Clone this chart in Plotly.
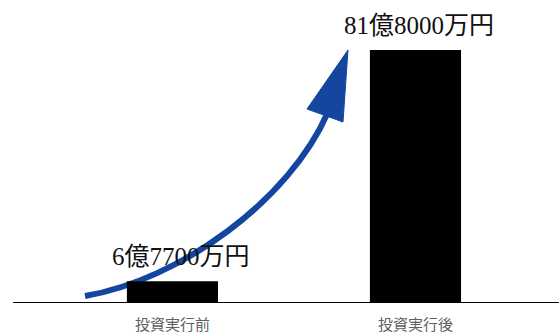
import plotly.graph_objects as go

categories = ["投資実行前", "投資実行後"]
values = [6.77, 81.8]  # 億円
value_labels = ["6億7700万円", "81億8000万円"]

W, H = 559, 333
ML, MR, MT, MB = 13, 0, 0, 31
PW, PH = W - ML - MR, H - MT - MB
LABEL_XSHIFT = [9, 4]

def px(x, y):
    return (x - ML) / PW, (H - MB - y) / PH

def path(cmds):
    out = []
    for c in cmds:
        if isinstance(c, str):
            out.append(c)
        else:
            a, b = px(*c)
            out.append(f"{a:.5f},{b:.5f}")
    return " ".join(out)

blue = "#1446a0"
serif = "'Liberation Serif', 'Noto Sans CJK JP', serif"

fig = go.Figure()
fig.add_trace(go.Bar(
    x=categories, y=values, width=0.375,
    marker=dict(color="#000000", line=dict(width=0)),
    hoverinfo="skip",
))

for c, v, t, dx in zip(categories, values, value_labels, LABEL_XSHIFT):
    fig.add_annotation(
        x=c, y=v, text=t, showarrow=False, yanchor="bottom", yshift=9, xshift=dx,
        font=dict(family=serif, size=25, color="#111111"),
    )

curve = path(["M", (85, 296), "C", (180, 280), (290, 200), (328, 112)])
head = path(["M", (307, 109), "L", (348, 50), "L", (343, 122), "Z"])
fig.add_shape(type="path", path=curve, xref="paper", yref="paper",
              line=dict(color=blue, width=6), layer="below")
fig.add_shape(type="path", path=head, xref="paper", yref="paper",
              line=dict(color=blue, width=1), fillcolor=blue, layer="below")

fig.update_layout(
    width=W, height=H,
    margin=dict(l=ML, r=MR, t=MT, b=MB),
    paper_bgcolor="white", plot_bgcolor="white",
    showlegend=False,
    xaxis=dict(
        type="category", range=[-0.656, 1.5905],
        showline=True, linecolor="#000000", linewidth=1,
        showgrid=False, zeroline=False,
        ticks="outside", ticklen=9, tickcolor="rgba(0,0,0,0)",
        tickfont=dict(family="Noto Sans CJK JP", size=15, color="#606060"),
    ),
    yaxis=dict(range=[0, 98.03], visible=False, showgrid=False, zeroline=False),
)

fig.write_html("out.html", post_script="document.body.style.margin='0';",
               config={"displayModeBar": False})
